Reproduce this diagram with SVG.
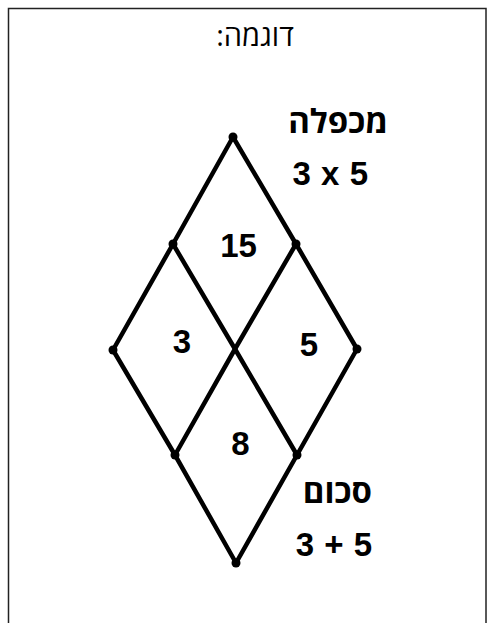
<svg xmlns="http://www.w3.org/2000/svg" width="494" height="623" viewBox="0 0 494 623">
<style>
.frame{fill:#fff;stroke:#222;stroke-width:1.5}
.edge{fill:none;stroke:#000;stroke-width:4.5;stroke-linejoin:round;stroke-linecap:round}
.dot{fill:#000}
.t{font-family:"Liberation Sans",Arial,sans-serif;fill:#000}
.h{font-family:"Open Sans","DejaVu Sans",sans-serif;fill:#000}
.b{font-weight:bold}
.num{font-family:"Liberation Sans",Arial,sans-serif;font-weight:bold;font-size:33px;text-anchor:middle;fill:#000}
</style>
<rect class="frame" x="8.5" y="8.5" width="477.5" height="700"/>
<text class="h" x="255" y="46" font-size="29" direction="rtl" text-anchor="middle">דוגמה:</text>
<g id="connectors">
<polyline class="edge" points="233,137 173,244 113,350 175,455 236,563"/>
<polyline class="edge" points="233,137 296,244 357,349 297,455 236,563"/>
<polyline class="edge" points="173,244 235,349 297,455"/>
<polyline class="edge" points="296,244 235,349 175,455"/>
</g>
<g id="v-top"><circle class="dot" cx="233" cy="137" r="4.5"/></g>
<g id="v-ul"><circle class="dot" cx="173" cy="244" r="4.5"/></g>
<g id="v-ur"><circle class="dot" cx="296" cy="244" r="4.5"/></g>
<g id="v-l"><circle class="dot" cx="113" cy="350" r="4.5"/></g>
<g id="v-r"><circle class="dot" cx="357" cy="349" r="4.5"/></g>
<g id="v-ll"><circle class="dot" cx="175" cy="455" r="4.5"/></g>
<g id="v-lr"><circle class="dot" cx="297" cy="455" r="4.5"/></g>
<g id="v-bottom"><circle class="dot" cx="236" cy="563" r="4.5"/></g>
<g id="n-15"><text class="num" x="238.5" y="257">15</text></g>
<g id="n-3"><text class="num" x="182" y="353">3</text></g>
<g id="n-5"><text class="num" x="309" y="356">5</text></g>
<g id="n-8"><text class="num" x="240.5" y="455">8</text></g>
<g id="product">
<text class="h b" x="388" y="133" font-size="33" direction="rtl" text-anchor="start">מכפלה</text>
<text class="t b" x="368" y="185" font-size="33" text-anchor="end" word-spacing="1">3 x 5</text>
</g>
<g id="sum">
<text class="h b" x="372" y="503" font-size="33" direction="rtl" text-anchor="start">סכום</text>
<text class="t b" x="372" y="556" font-size="33" text-anchor="end" word-spacing="1">3 + 5</text>
</g>
</svg>
